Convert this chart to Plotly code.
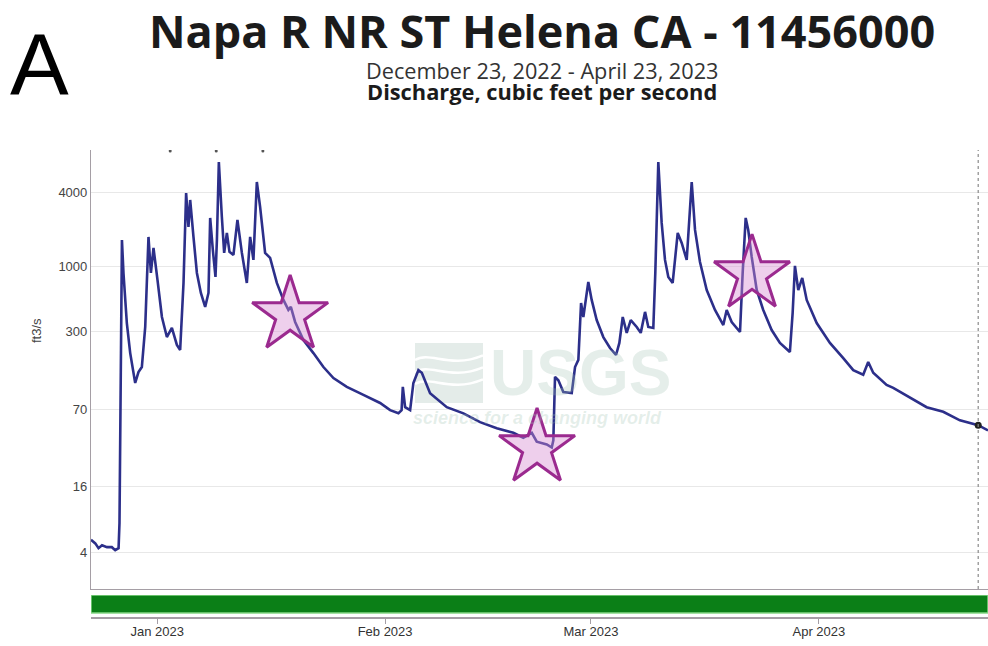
import numpy as np
import plotly.graph_objects as go

# ---------------- data ----------------
times = [
    "2022-12-23 00:00", "2022-12-23 14:00", "2022-12-24 00:30", "2022-12-24 12:00", "2022-12-25 04:00",
    "2022-12-25 20:00", "2022-12-26 07:00", "2022-12-26 18:00", "2022-12-26 21:00", "2022-12-26 23:15",
    "2022-12-27 05:00", "2022-12-27 10:00", "2022-12-27 21:00", "2022-12-28 08:00", "2022-12-29 00:15",
    "2022-12-29 11:00", "2022-12-29 22:00", "2022-12-30 09:00", "2022-12-30 19:40", "2022-12-31 03:30",
    "2022-12-31 12:00", "2023-01-01 01:00", "2023-01-01 15:30", "2023-01-02 07:40", "2023-01-03 00:00",
    "2023-01-03 16:20", "2023-01-04 03:00", "2023-01-04 14:00", "2023-01-04 22:30", "2023-01-05 06:10",
    "2023-01-05 11:45", "2023-01-05 22:30", "2023-01-06 09:40", "2023-01-06 22:40", "2023-01-07 12:40",
    "2023-01-07 23:30", "2023-01-08 05:00", "2023-01-08 13:40", "2023-01-08 22:20", "2023-01-09 03:00",
    "2023-01-09 09:20", "2023-01-09 19:10", "2023-01-10 02:40", "2023-01-10 11:30", "2023-01-10 20:00",
    "2023-01-11 09:00", "2023-01-11 22:00", "2023-01-12 12:30", "2023-01-13 04:40", "2023-01-13 15:30",
    "2023-01-14 02:10", "2023-01-14 13:20", "2023-01-15 00:00", "2023-01-15 16:20", "2023-01-16 08:40",
    "2023-01-17 06:40", "2023-01-18 04:10", "2023-01-18 20:20", "2023-01-19 04:20", "2023-01-19 18:20",
    "2023-01-20 21:20", "2023-01-22 06:00", "2023-01-23 14:40", "2023-01-24 23:20", "2023-01-26 19:00",
    "2023-01-29 01:10", "2023-01-31 07:40", "2023-02-01 16:20", "2023-02-02 19:30", "2023-02-03 05:50",
    "2023-02-03 09:50", "2023-02-03 17:20", "2023-02-04 09:40", "2023-02-04 20:20", "2023-02-05 12:40",
    "2023-02-05 23:50", "2023-02-07 02:50", "2023-02-09 09:20", "2023-02-11 15:40", "2023-02-13 22:00",
    "2023-02-16 04:30", "2023-02-18 10:40", "2023-02-19 19:10", "2023-02-20 22:50", "2023-02-21 15:00",
    "2023-02-22 23:50", "2023-02-23 16:00", "2023-02-23 21:10", "2023-02-24 02:40", "2023-02-24 13:30",
    "2023-02-25 05:50", "2023-02-26 09:10", "2023-02-26 20:00", "2023-02-27 06:50", "2023-02-27 15:40",
    "2023-02-27 23:10", "2023-02-28 15:20", "2023-03-01 02:20", "2023-03-01 18:40", "2023-03-02 16:20",
    "2023-03-03 14:10", "2023-03-04 09:50", "2023-03-04 20:40", "2023-03-05 07:40", "2023-03-05 20:40",
    "2023-03-06 09:50", "2023-03-07 05:20", "2023-03-07 18:30", "2023-03-08 08:30", "2023-03-08 19:10",
    "2023-03-09 11:30", "2023-03-09 18:00", "2023-03-10 03:50", "2023-03-10 14:50", "2023-03-11 01:40",
    "2023-03-11 12:30", "2023-03-12 02:40", "2023-03-12 19:10", "2023-03-13 08:10", "2023-03-14 00:30",
    "2023-03-14 16:50", "2023-03-15 03:40", "2023-03-15 19:50", "2023-03-16 17:50", "2023-03-17 20:50",
    "2023-03-19 00:00", "2023-03-19 11:00", "2023-03-20 03:20", "2023-03-21 06:30", "2023-03-21 15:10",
    "2023-03-22 01:00", "2023-03-22 09:20", "2023-03-22 20:40", "2023-03-23 13:00", "2023-03-24 10:20",
    "2023-03-25 13:50", "2023-03-26 16:50", "2023-03-28 01:20", "2023-03-28 10:20", "2023-03-28 17:50",
    "2023-03-29 04:40", "2023-03-29 17:40", "2023-03-30 08:10", "2023-03-31 16:50", "2023-04-02 12:00",
    "2023-04-04 07:30", "2023-04-05 16:10", "2023-04-07 00:40", "2023-04-07 17:00", "2023-04-08 09:20",
    "2023-04-10 05:00", "2023-04-11 02:40", "2023-04-13 09:10", "2023-04-15 15:40", "2023-04-17 21:50",
    "2023-04-20 04:20", "2023-04-22 16:00", "2023-04-24 00:00",
]
cfs = [
    5.3, 4.9, 4.4, 4.7, 4.5, 4.5, 4.2, 4.4, 7.6, 28,
    1649, 893, 352, 201, 115, 141, 155, 327, 1745, 893,
    1421, 785, 394, 271, 321, 234, 213, 742, 3948, 2102,
    3467, 1745, 893, 616, 475, 616, 2483, 1370, 829, 1649,
    7000, 2529, 1297, 1879, 1321, 1249, 2393, 1297, 742, 1745,
    1138, 4842, 3048, 1297, 1181, 742, 541, 449, 475, 359,
    256, 201, 155, 126, 107, 92, 79, 69, 65, 69,
    107, 73, 69, 115, 146, 139, 95, 73, 65, 55,
    49, 45, 41, 45, 38, 36, 34, 39, 129, 121,
    97, 95, 155, 177, 511, 394, 756, 541, 372, 271,
    221, 194, 243, 394, 293, 372, 327, 293, 433, 327,
    321, 893, 7000, 2264, 1138, 829, 742, 1879, 1559, 1138,
    4842, 1988, 1096, 651, 449, 339, 449, 359, 298, 893,
    2483, 1988, 1203, 651, 449, 309, 243, 205, 425, 1018,
    651, 814, 541, 352, 243, 183, 146, 134, 170, 139,
    111, 105, 88, 73, 67, 57, 52, 47,
]

y_ticks = [4, 16, 70, 300, 1000, 4000]
x_ticks = ["2023-01-01", "2023-02-01", "2023-03-01", "2023-04-01"]
x_tick_labels = ["Jan 2023", "Feb 2023", "Mar 2023", "Apr 2023"]
x_range = ["2022-12-23", "2023-04-24"]

star_times = ["2023-01-19 02:00", "2023-02-21 16:00", "2023-03-22 21:40"]
star_cfs = [409, 33.7, 876]

event_times = ["2023-01-02 18:30", "2023-01-09 00:45", "2023-01-15 09:00"]
event_cfs = [8600, 8600, 8600]

latest_time = "2023-04-22 16:00"
latest_cfs = 52


def tr(v):
    """USGS-style log scale: log10(1 + Q)."""
    return np.log10(1.0 + np.asarray(v, dtype=float))


AXIS_GRAY = "#a59ea5"
LINE_BLUE = "#2c2f8a"

fig = go.Figure()

# approval status bar (bottom strip)
fig.add_trace(go.Scatter(
    x=[x_range[0], x_range[1], x_range[1], x_range[0], x_range[0]],
    y=[0, 0, 1, 1, 0], mode="lines", fill="toself",
    fillcolor="#0b7f17", line=dict(color="#86d886", width=1.5),
    xaxis="x2", yaxis="y2", hoverinfo="skip", showlegend=False))

# discharge line
fig.add_trace(go.Scatter(
    x=times, y=tr(cfs), mode="lines",
    line=dict(color=LINE_BLUE, width=2.6),
    xaxis="x", yaxis="y", showlegend=False))

# small event marks at top
fig.add_trace(go.Scatter(
    x=event_times, y=tr(event_cfs), mode="markers",
    marker=dict(size=3, color="#555555"),
    xaxis="x", yaxis="y", showlegend=False, hoverinfo="skip"))

# latest value dot
fig.add_trace(go.Scatter(
    x=[latest_time], y=tr([latest_cfs]), mode="markers",
    marker=dict(size=7, color="#222222"),
    xaxis="x", yaxis="y", showlegend=False))

# stars
fig.add_trace(go.Scatter(
    x=star_times, y=tr(star_cfs), mode="markers",
    marker=dict(symbol="star", size=57, color="rgba(215,140,210,0.42)",
                line=dict(color="#9b2a8f", width=3)),
    xaxis="x", yaxis="y", showlegend=False, hoverinfo="skip"))

W, H = 988, 646
L, R, T, B = 91, 0, 150, 29
ph = H - T - B  # 467


def px(xp):
    return (xp - L) / (W - L - R)


def py(yp):
    return (H - B - yp) / ph


fig.update_layout(
    width=W, height=H,
    margin=dict(l=L, r=R, t=T, b=B, pad=0),
    paper_bgcolor="white", plot_bgcolor="white",
    font=dict(family="Liberation Sans, Arial, sans-serif", color="#444"),
    xaxis=dict(domain=[0, 1], anchor="y", range=x_range, type="date",
               showline=True, linecolor=AXIS_GRAY, linewidth=1.2,
               showticklabels=False, ticks="", showgrid=False, zeroline=False),
    xaxis2=dict(domain=[0, 1], anchor="y2", matches="x", type="date",
                tickvals=x_ticks, ticktext=x_tick_labels,
                ticks="outside", ticklen=5, tickcolor=AXIS_GRAY,
                ticklabelstandoff=-3,
                showline=True, linecolor=AXIS_GRAY, linewidth=1.5,
                showgrid=False, zeroline=False,
                tickfont=dict(size=13, color="#333")),
    yaxis=dict(domain=[py(589), 1], range=[0.403, 3.943],
               tickvals=list(tr(y_ticks)), ticktext=[str(t) for t in y_ticks],
               showgrid=True, gridcolor="#e8e8e8", gridwidth=1.2,
               showline=True, linecolor=AXIS_GRAY, linewidth=1.2,
               ticks="", zeroline=False,
               tickfont=dict(size=13, color="#444")),
    yaxis2=dict(domain=[0, py(595)], range=[-0.222, 1], visible=False),
)

# dotted "now" line
fig.add_shape(type="line", xref="x", yref="y domain",
              x0=latest_time, x1=latest_time, y0=0, y1=1,
              line=dict(color="#8a8a8a", width=1.2, dash="dot"))

# faint USGS logo block (below traces)
lx0, lx1, ly0, ly1 = px(415), px(483), py(403), py(343)
fig.add_shape(type="rect", xref="paper", yref="paper",
              x0=lx0, x1=lx1, y0=ly0, y1=ly1,
              fillcolor="#e4ece9", line=dict(width=0), layer="below")
for k in range(3):
    yy = py(360 + k * 12)
    fig.add_shape(type="path", xref="paper", yref="paper", layer="below",
                  path=(f"M {lx0},{yy} C {px(430)},{yy + 0.02} {px(450)},{yy - 0.02} "
                        f"{lx1},{yy + 0.01}"),
                  line=dict(color="white", width=2.5))

ann = [
    dict(text="A", x=px(39), y=py(64.5), font=dict(size=88, color="#000",
         family="Liberation Sans, Arial")),
    dict(text="<b>Napa R NR ST Helena CA - 11456000</b>", x=px(541.8), y=py(30),
         font=dict(size=45, color="#1b1b1b", family="Open Sans")),
    dict(text="December 23, 2022 - April 23, 2023", x=px(542.4), y=py(70),
         font=dict(size=21.7, color="#333", family="Open Sans")),
    dict(text="<b>Discharge, cubic feet per second</b>", x=px(542.4), y=py(92),
         font=dict(size=21.8, color="#1b1b1b", family="Open Sans")),
    dict(text="ft3/s", x=px(36), y=py(331), textangle=-90,
         font=dict(size=13, color="#444")),
    dict(text="<b>USGS</b>", x=px(580), y=py(372.5),
         font=dict(size=64, color="rgba(160,195,180,0.28)",
                   family="Liberation Sans")),
    dict(text="<b><i>science for a changing world</i></b>", x=px(537.5), y=py(418),
         font=dict(size=18, color="rgba(160,195,180,0.28)", family="Liberation Sans")),
]
for a in ann:
    a.update(xref="paper", yref="paper", showarrow=False,
             xanchor="center", yanchor="middle")
fig.update_layout(annotations=ann)

fig.write_html("out.html", config={"displayModeBar": False},
               post_script="document.body.style.margin='0px';document.body.style.padding='0px';")
